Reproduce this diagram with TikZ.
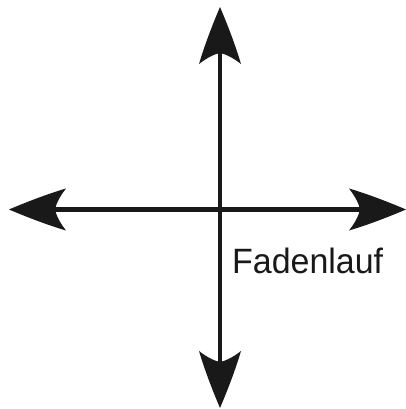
\documentclass[tikz,border=0pt]{standalone}
\usepackage{fontspec}
\setmainfont{Liberation Sans}
\begin{document}
\begin{tikzpicture}[x=1pt,y=1pt,
  axisline/.style={line width=4.5pt, black!90},
  ahead/.pic={\fill[black!90] (0,0) .. controls (20,8.5) and (40,16) .. (57,21)
     .. controls (50,12) and (47,5) .. (46,0)
     .. controls (47,-5) and (50,-12) .. (57,-21)
     .. controls (40,-16) and (20,-8.5) .. (0,0) -- cycle;},
  lbl/.style={inner sep=0pt, anchor=base west, text=black!90}]
\useasboundingbox (0,0) rectangle (406,409);
\coordinate (L) at (9,199.5);
\coordinate (R) at (406,199.5);
\coordinate (T) at (220,402);
\coordinate (B) at (220,1);
\draw[axisline] ([xshift=30pt]L) -- ([xshift=-30pt]R);
\draw[axisline] ([yshift=-30pt]T) -- ([yshift=30pt]B);
\pic at (L) {ahead};
\pic[rotate=180] at (R) {ahead};
\pic[rotate=-90] at (T) {ahead};
\pic[rotate=90] at (B) {ahead};
\node[lbl] (txt) at (232,135.5) {\resizebox{151pt}{25.5pt}{\fontsize{36}{36}\selectfont Fadenlauf}};
\end{tikzpicture}
\end{document}
